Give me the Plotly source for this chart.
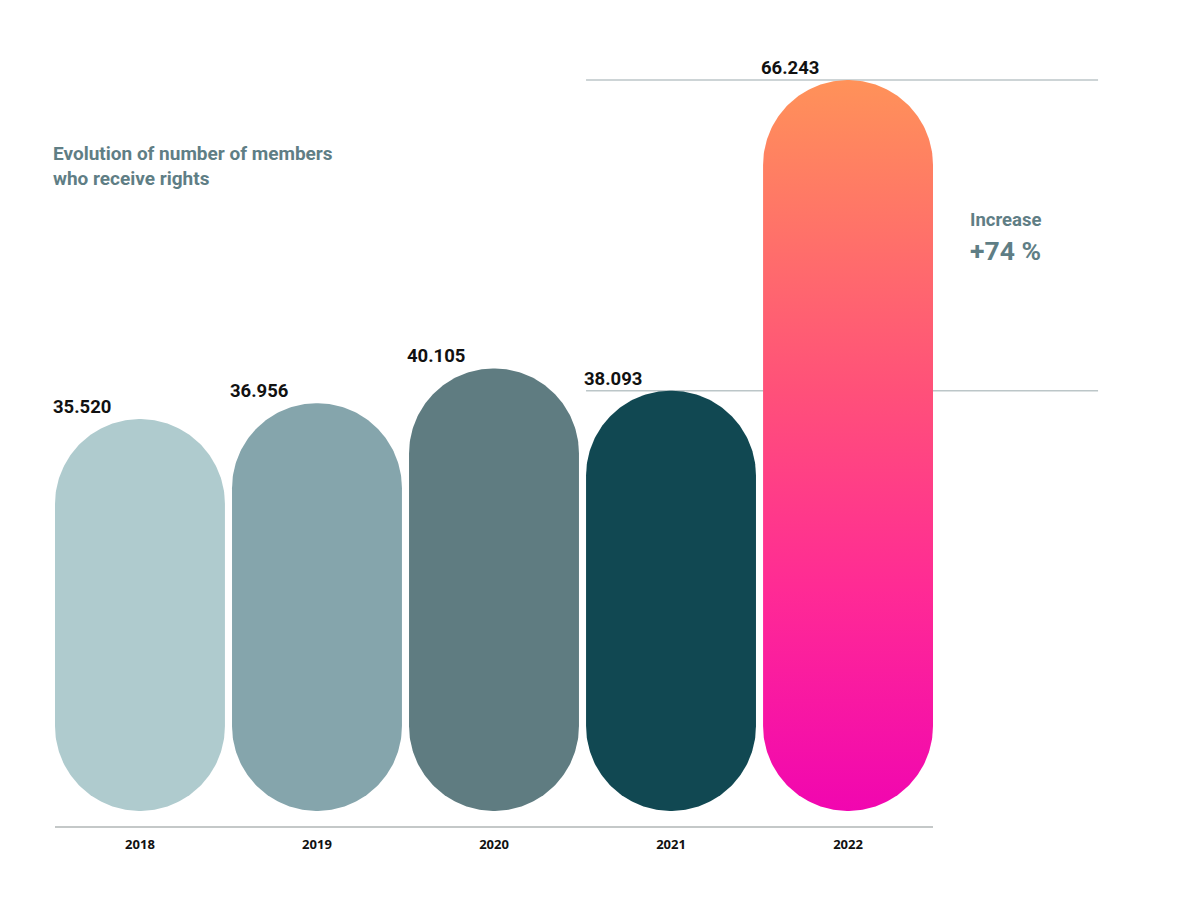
import numpy as np
import plotly.graph_objects as go

years = ["2018", "2019", "2020", "2021", "2022"]
members = [35520, 36956, 40105, 38093, 66243]
bar_colors = ["#afcbce", "#85a5ac", "#5f7c81", "#114852", None]
grad_scale = [[0.0, "#f106b0"], [0.3, "#ff2a95"], [0.58, "#ff5179"], [1.0, "#ff9259"]]
title_lines = ["Evolution of number of members", "who receive rights"]
increase_label = "Increase"
increase_value = "+74 %"

# layout geometry (page body adds an 8px offset)
W, H = 1200, 900
off = 8
ml, mr, mt, mb = 55 - off, 267 + off, 40 - off, 74 + off
plot_w = W - ml - mr
plot_h = H - mt - mb
half_w = 0.48
x_range = [-half_w, len(years) - 1 + half_w]
px_per_x = plot_w / (x_range[1] - x_range[0])
base_px = 15            # pixels between axis line and zero
top_px = 40             # pixels between plot top and max value
k = (plot_h - base_px - top_px) / max(members)  # px per unit
y_range = [-base_px / k, (plot_h - base_px) / k]
r_px = half_w * px_per_x
ry = r_px / k

fig = go.Figure()

def pill(i, v):
    t_top = np.linspace(0, np.pi, 120)
    t_bot = np.linspace(np.pi, 2 * np.pi, 120)
    xs = np.concatenate([i + half_w * np.cos(t_top), i + half_w * np.cos(t_bot)])
    ys = np.concatenate([v - ry + ry * np.sin(t_top), ry + ry * np.sin(t_bot)])
    return np.append(xs, xs[0]), np.append(ys, ys[0])

for i, (yr, v, c) in enumerate(zip(years, members, bar_colors)):
    xs, ys = pill(i, v)
    kw = dict(x=xs, y=ys, mode="lines", fill="toself", line=dict(width=0),
              hoverinfo="skip", showlegend=False)
    if c is None:
        kw["fillgradient"] = dict(type="vertical", colorscale=grad_scale)
        kw["fillcolor"] = "#ff5179"
    else:
        kw["fillcolor"] = c
    fig.add_trace(go.Scatter(**kw))

def fmt(v):
    return f"{v:,}".replace(",", ".")

# value labels
for i, v in enumerate(members):
    fig.add_annotation(x=i - half_w, y=v, xref="x", yref="y", text=fmt(v),
                       showarrow=False, xanchor="left", yanchor="bottom",
                       xshift=-4, yshift=-1,
                       font=dict(family="Roboto", size=18.5, color="#111111", weight="bold"))

# reference lines (behind bars)
def ypaper(v):
    return (v - y_range[0]) / (y_range[1] - y_range[0])

def xpaper(x):
    return (x - x_range[0]) / (x_range[1] - x_range[0])

x_end = 1.188
for v in [members[-1], members[-2]]:
    fig.add_shape(type="line", xref="paper", yref="paper",
                  x0=xpaper(len(years) - 2 - half_w), x1=x_end,
                  y0=ypaper(v), y1=ypaper(v), layer="below",
                  line=dict(color="#bcc6c8", width=1.5))

txt_color = "#5f7e85"
fig.add_annotation(xref="paper", yref="paper", x=-0.004, y=(826 - 166) / plot_h,
                   text="<br>".join(title_lines), showarrow=False, xanchor="left",
                   yanchor="middle", align="left",
                   font=dict(family="Roboto", size=19, color=txt_color, weight=700))
fig.add_annotation(xref="paper", yref="paper", x=(968 - 55) / plot_w, y=(826 - 220) / plot_h,
                   text=increase_label, showarrow=False, xanchor="left", yanchor="middle",
                   font=dict(family="Roboto", size=18.5, color=txt_color, weight=700))
fig.add_annotation(xref="paper", yref="paper", x=(968 - 55) / plot_w, y=(826 - 250) / plot_h,
                   text=increase_value, showarrow=False, xanchor="left", yanchor="middle",
                   font=dict(family="Roboto", size=26.5, color=txt_color, weight=700))

fig.update_layout(
    width=W, height=H, margin=dict(l=ml, r=mr, t=mt, b=mb),
    plot_bgcolor="white", paper_bgcolor="white",
    xaxis=dict(range=x_range, tickvals=list(range(len(years))), ticktext=years,
               showgrid=False, zeroline=False, showline=True, linecolor="#c4c8c8",
               linewidth=2, ticks="", ticklabelstandoff=5,
               tickfont=dict(family="Open Sans", size=13, color="#111111", weight="bold"),
               fixedrange=True),
    yaxis=dict(range=y_range, visible=False, showgrid=False, zeroline=False, fixedrange=True),
)

fig.write_html("out.html")
